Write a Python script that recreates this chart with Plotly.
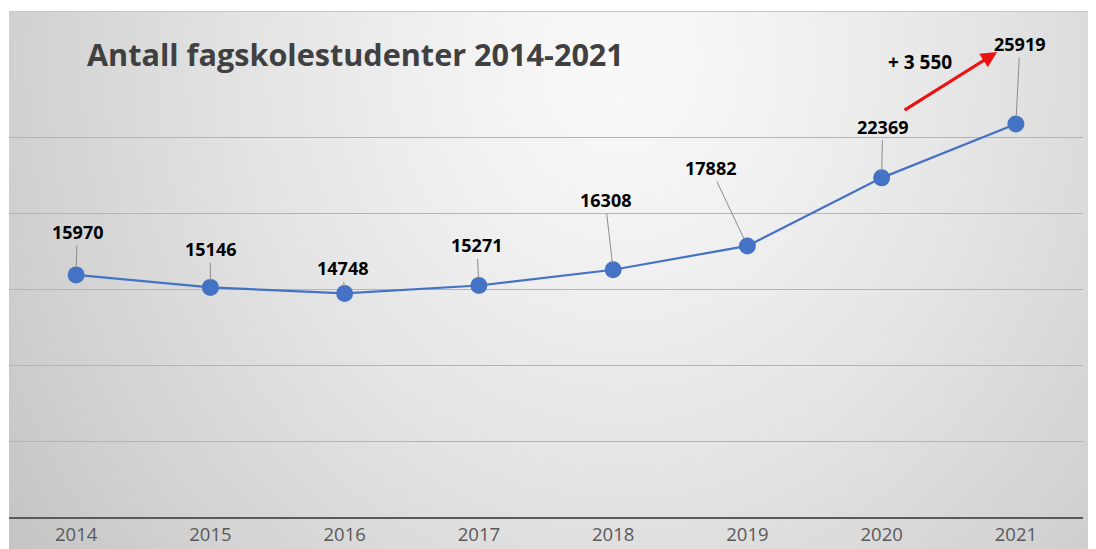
import zlib, struct, base64
import numpy as np
import plotly.graph_objects as go

# ---- data ----
years = ["2014", "2015", "2016", "2017", "2018", "2019", "2020", "2021"]
students = [15970, 15146, 14748, 15271, 16308, 17882, 22369, 25919]
label_dx = [1, 0, -2, -2, -8, -37, 1, 4]
label_dy = [-43, -38, -25, -40, -70, -78, -51, -80]
title_text = "Antall fagskolestudenter 2014-2021"
growth_text = "+ 3 550"

# page is offset by the default 8px body margin
OFF = 8
PAGE_W, PAGE_H = 1096, 549
W, H = PAGE_W - OFF, PAGE_H - OFF
ML, MR, MT, MB = 9 - OFF, 13, 11 - OFF, 32
PW, PH = W - ML - MR, H - MT - MB
YMAX = PH * 65.96

# ---- background gradient image (page coordinates) ----
yy, xx = np.mgrid[0:PAGE_H, 0:PAGE_W]
d = np.sqrt(((xx - 620) / 560.0) ** 2 + ((yy - 60) / 640.0) ** 2)
v = 249 - 36 * d ** 1.3
img = np.clip(v, 0, 255).astype(np.uint8)
img[:11, :] = 255
img[:, :9] = 255
img[11, 9:] = 200
raw = b"".join(b"\x00" + img[r].tobytes() for r in range(PAGE_H))


def chunk(t, data):
    c = struct.pack(">I", len(data)) + t + data
    return c + struct.pack(">I", zlib.crc32(t + data) & 0xFFFFFFFF)


png = (b"\x89PNG\r\n\x1a\n"
       + chunk(b"IHDR", struct.pack(">IIBBBBB", PAGE_W, PAGE_H, 8, 0, 0, 0, 0))
       + chunk(b"IDAT", zlib.compress(raw, 9))
       + chunk(b"IEND", b""))
bg_uri = "data:image/png;base64," + base64.b64encode(png).decode()

fig = go.Figure()
fig.add_trace(go.Scatter(
    x=years, y=students, mode="lines+markers",
    line=dict(color="#4472C4", width=2.2),
    marker=dict(color="#4472C4", size=17),
    hoverinfo="x+y", showlegend=False, cliponaxis=False,
))

annotations = []
for i, (val, dx, dy) in enumerate(zip(students, label_dx, label_dy)):
    annotations.append(dict(
        x=i, y=val, xref="x", yref="y", text=str(val),
        showarrow=True, arrowhead=0, arrowwidth=1, arrowcolor="#8c8c8c",
        ax=dx, ay=dy, standoff=7,
        font=dict(family="Open Sans", size=18, color="#000000", weight="bold"),
    ))

# red growth arrow pointing to the last label
annotations.append(dict(
    x=6.86, y=30670, xref="x", yref="y", text="",
    showarrow=True, arrowhead=2, arrowsize=1, arrowwidth=3.2,
    arrowcolor="#ee1111", ax=-94, ay=59,
))
annotations.append(dict(
    x=(920 - 9) / PW, y=(517 - 62) / PH, xref="paper", yref="paper",
    text=growth_text, showarrow=False, xanchor="center", yanchor="middle",
    font=dict(family="Open Sans", size=19, color="#000000", weight="bold"),
))

fig.update_layout(
    width=W, height=H,
    margin=dict(l=ML, r=MR, t=MT, b=MB, pad=0, autoexpand=False),
    paper_bgcolor="white", plot_bgcolor="rgba(0,0,0,0)",
    title=dict(text=title_text, x=(87 - OFF) / W, xanchor="left", xref="container",
               y=1 - (55 - OFF) / H, yanchor="middle", yref="container",
               font=dict(family="Open Sans", size=30.6, color="#404040", weight="bold")),
    images=[dict(source=bg_uri, xref="paper", yref="paper",
                 x=-9 / PW, y=1 + 11 / PH, sizex=PAGE_W / PW, sizey=PAGE_H / PH,
                 xanchor="left", yanchor="top", sizing="stretch", layer="below")],
    annotations=annotations,
    xaxis=dict(type="category", range=[-0.5, 7.5], showgrid=False, automargin=False,
               showline=True, linecolor="#5a5a5a", linewidth=1.5,
               ticks="", tickfont=dict(family="Open Sans", size=18.5, color="#595959"),
               ticklabelstandoff=0, zeroline=False, fixedrange=True),
    yaxis=dict(range=[0, YMAX], tickvals=[0, 5000, 10000, 15000, 20000, 25000],
               showticklabels=False, showgrid=True, gridcolor="#b4b4b4", gridwidth=1,
               automargin=False, zeroline=False, showline=False, fixedrange=True),
    showlegend=False,
)

fig.write_html("out.html")
